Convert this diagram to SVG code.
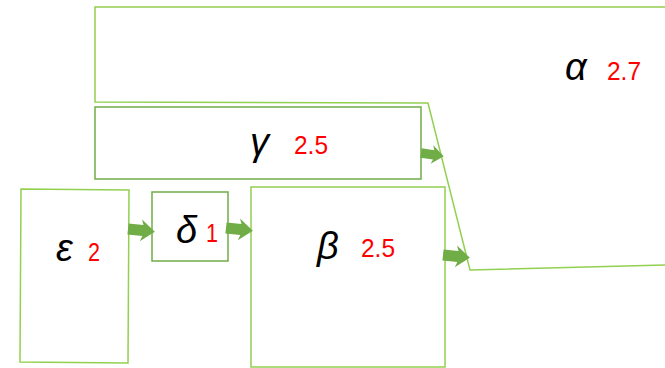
<svg xmlns="http://www.w3.org/2000/svg" width="665" height="368" viewBox="0 0 665 368">
<style>
.lt{fill:none;stroke:#92D050;stroke-width:1.5}
.dk{fill:none;stroke:#70AD47;stroke-width:1.5}
.g{font-family:"Liberation Sans","DejaVu Sans",sans-serif;font-style:italic;font-size:38px;fill:#000}
.n{font-family:"Liberation Sans","DejaVu Sans",sans-serif;font-size:26px;fill:#FF0000}
.ar{fill:#70AD47}
</style>
<defs>
<path id="arr" d="M0,-5.5 L15,-5.5 L13,-11 L27,0 L13,11 L15,5.5 L0,5.5 Z"/>
</defs>
<rect width="665" height="368" fill="#fff"/>
<g id="alpha">
<polygon class="lt" points="95,7 667,7 667,265 470,270 428,103 95,102"/>
<text class="g" x="565" y="80">α</text>
<text class="n" x="607" y="80" textLength="34" lengthAdjust="spacingAndGlyphs">2.7</text>
</g>
<g id="gamma">
<rect class="dk" x="95" y="107" width="326" height="72"/>
<text class="g" x="250" y="155">γ</text>
<text class="n" x="294" y="154" textLength="34" lengthAdjust="spacingAndGlyphs">2.5</text>
</g>
<g id="epsilon">
<polygon class="lt" points="21,189 129,190 128,363 20,362"/>
<text class="g" x="56" y="261">ε</text>
<text class="n" x="88" y="261" textLength="12" lengthAdjust="spacingAndGlyphs">2</text>
</g>
<g id="delta">
<rect class="dk" x="152" y="192" width="76" height="69"/>
<text class="g" x="176" y="243">δ</text>
<text class="n" x="206" y="242" textLength="12" lengthAdjust="spacingAndGlyphs">1</text>
</g>
<g id="beta">
<rect class="lt" x="251" y="187" width="194" height="180"/>
<text class="g" x="317" y="259">β</text>
<text class="n" x="361" y="257" textLength="34" lengthAdjust="spacingAndGlyphs">2.5</text>
</g>
<g id="connectors">
<use href="#arr" class="ar" transform="translate(128,229) rotate(6)"/>
<use href="#arr" class="ar" transform="translate(226,228) rotate(6)"/>
<use href="#arr" class="ar" transform="translate(421,153) rotate(8) scale(0.85)"/>
<use href="#arr" class="ar" transform="translate(443,255) rotate(6)"/>
</g>
</svg>
